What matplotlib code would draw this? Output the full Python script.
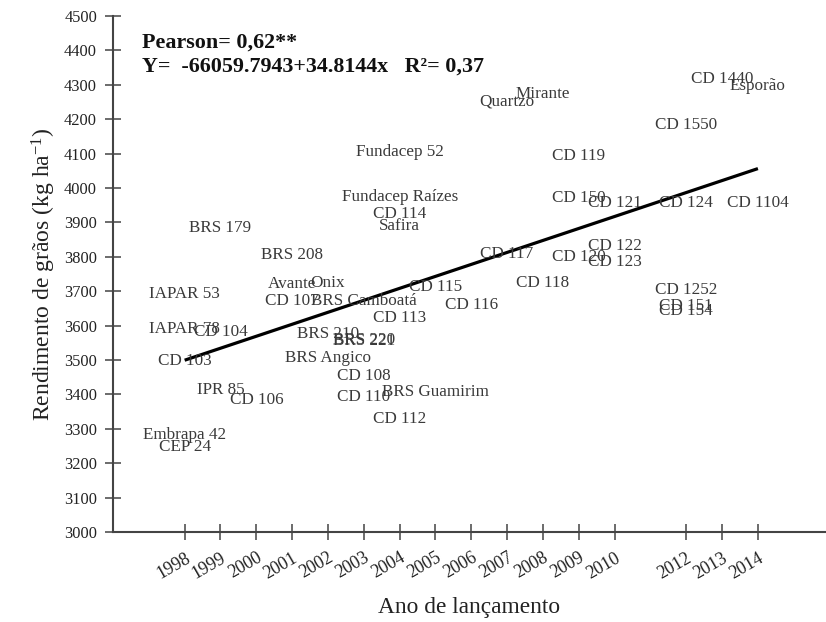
import matplotlib
matplotlib.use("Agg")
import matplotlib.pyplot as plt
import numpy as np

plt.rcParams['font.family'] = ['Liberation Serif', 'DejaVu Serif']
plt.rcParams['mathtext.fontset'] = 'custom'
plt.rcParams['mathtext.rm'] = 'Liberation Serif'
plt.rcParams['mathtext.it'] = 'Liberation Serif:italic'

# cultivares: nome, ano de lançamento, rendimento (kg/ha)
cultivares = ['IAPAR 53', 'IAPAR 78', 'CD 103', 'Embrapa 42', 'CEP 24',
              'BRS 179', 'CD 104', 'IPR 85', 'CD 106',
              'BRS 208', 'Avante', 'CD 107',
              'Onix', 'BRS 210', 'BRS Angico',
              'BRS Camboatá', 'BRS 220', 'BRS 221', 'CD 108', 'CD 110',
              'Fundacep 52', 'Fundacep Raízes', 'CD 114', 'Safira', 'CD 113', 'CD 112',
              'CD 115', 'BRS Guamirim',
              'CD 116',
              'Quartzo', 'CD 117',
              'Mirante', 'CD 118',
              'CD 119', 'CD 150', 'CD 120',
              'CD 121', 'CD 122', 'CD 123',
              'CD 1550', 'CD 124', 'CD 1252', 'CD 151', 'CD 154',
              'CD 1440',
              'Esporão', 'CD 1104']
anos = [1998, 1998, 1998, 1998, 1998,
        1999, 1999, 1999, 2000,
        2001, 2001, 2001,
        2002, 2002, 2002,
        2003, 2003, 2003, 2003, 2003,
        2004, 2004, 2004, 2004, 2004, 2004,
        2005, 2005,
        2006,
        2007, 2007,
        2008, 2008,
        2009, 2009, 2009,
        2010, 2010, 2010,
        2012, 2012, 2012, 2012, 2012,
        2013,
        2014, 2014]
rendimento = [3691, 3590, 3497, 3282, 3248,
              3883, 3580, 3413, 3384,
              3805, 3721, 3672,
              3723, 3576, 3505,
              3672, 3558, 3555, 3453, 3393,
              4105, 3973, 3923, 3890, 3623, 3328,
              3713, 3408,
              3660,
              4251, 3807,
              4272, 3725,
              4093, 3970, 3800,
              3957, 3832, 3786,
              4183, 3955, 3703, 3658, 3643,
              4317,
              4297, 3955]

anos_ticks = [1998, 1999, 2000, 2001, 2002, 2003, 2004, 2005, 2006,
              2007, 2008, 2009, 2010, 2012, 2013, 2014]

# regressão linear
a, b = -66059.7943, 34.8144

fig = plt.figure(figsize=(8.26, 6.22), dpi=100)
ax = fig.add_axes([0.1368, 0.1447, 0.8632, 0.8296])

for nome, x, y in zip(cultivares, anos, rendimento):
    ax.text(x, y, nome, ha='center', va='center', fontsize=12.3, color='#3a3a3a')

xr = np.array([min(anos), max(anos)])
ax.plot(xr, a + b * xr, color='black', lw=2.3, solid_capstyle='butt')

ax.text(0.040, 0.948, 'Pearson= 0,62**', transform=ax.transAxes,
        fontsize=15.8, fontweight='bold', va='center', ha='left', color='#111')
ax.text(0.040, 0.902, 'Y=  -66059.7943+34.8144x   R²= 0,37', transform=ax.transAxes,
        fontsize=15.8, fontweight='bold', va='center', ha='left', color='#111')

ax.set_xlim(1996, 2015.9)
ax.set_ylim(3000, 4500)
ax.set_yticks(np.arange(3000, 4501, 100))
ax.set_xticks(anos_ticks)
ax.set_xticklabels([str(t) for t in anos_ticks], rotation=30, ha='right',
                   rotation_mode='anchor')

for s in ['top', 'right']:
    ax.spines[s].set_visible(False)
for s in ['left', 'bottom']:
    ax.spines[s].set_color('#444')
    ax.spines[s].set_linewidth(1.5)

ax.tick_params(axis='both', direction='inout', length=11, width=1.1,
               color='#444', labelcolor='#222')
ax.tick_params(axis='y', pad=6, labelsize=11.8)
ax.tick_params(axis='x', pad=7, labelsize=13)

ax.set_xlabel('Ano de lançamento', fontsize=16.8, color='#222', labelpad=11)
ax.set_ylabel('Rendimento de grãos (kg ha$^{-1}$)', fontsize=17, color='#222', labelpad=4)

fig.savefig('out.png', dpi=100)
